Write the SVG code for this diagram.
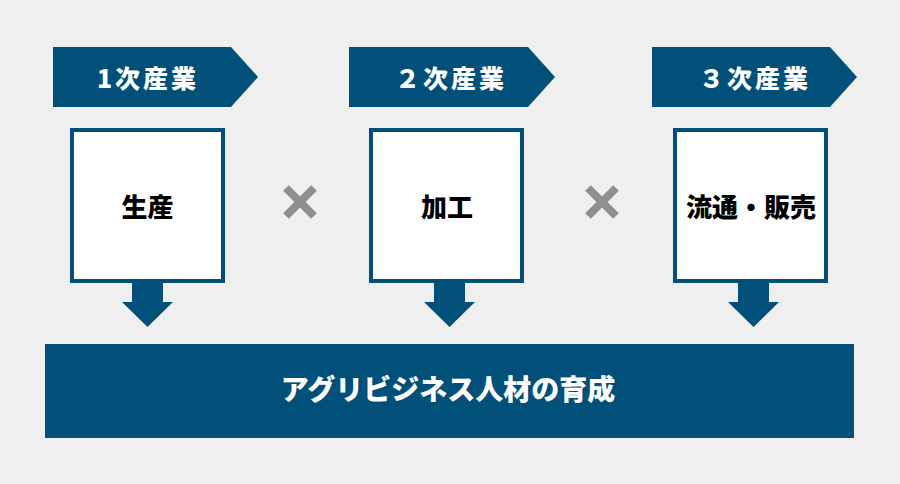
<svg xmlns="http://www.w3.org/2000/svg" width="900" height="484" viewBox="0 0 900 484">
<style>
.bg{fill:#efefef}
.navy{fill:#01507a}
.box{fill:#ffffff;stroke:#01507a;stroke-width:4}
.ban{font-family:"Noto Sans CJK JP","Noto Sans",sans-serif;font-weight:900;font-size:25px;fill:#ffffff;text-anchor:middle;letter-spacing:3px}
.lbl{font-family:"Noto Sans CJK JP","Noto Sans",sans-serif;font-weight:900;font-size:26px;fill:#000000;text-anchor:middle}
.big{font-family:"Noto Sans CJK JP","Noto Sans",sans-serif;font-weight:900;font-size:28px;fill:#ffffff;text-anchor:middle}
.x{stroke:#8f8f8f;stroke-width:8;stroke-linecap:butt}
</style>
<defs>
<path id="arr" d="M-15.5,0 H15.5 V19 H25.5 L0,44 L-25.5,19 H-15.5 Z"/>
</defs>
<rect class="bg" x="0" y="0" width="900" height="484"/>
<g id="banner1"><path class="navy" d="M53,47 H231 L258,77 L231,107 H53 Z"/><text class="ban" x="148" y="88">1次産業</text></g>
<g id="banner2"><path class="navy" d="M349,47 H528 L555,77 L528,107 H349 Z"/><text class="ban" x="451" y="88">２次産業</text></g>
<g id="banner3"><path class="navy" d="M652,47 H830 L857,77 L830,107 H652 Z"/><text class="ban" x="755" y="88">３次産業</text></g>
<g id="node1"><rect class="box" x="72" y="130" width="151" height="151"/><text class="lbl" x="147.5" y="217">生産</text></g>
<g id="node2"><rect class="box" x="371" y="130" width="151" height="151"/><text class="lbl" x="447" y="217">加工</text></g>
<g id="node3"><rect class="box" x="675" y="130" width="151" height="151"/><text class="lbl" x="751" y="217">流通・販売</text></g>
<g id="times1"><path class="x" d="M286,188 L314,216 M314,188 L286,216"/></g>
<g id="times2"><path class="x" d="M588,188 L616,216 M616,188 L588,216"/></g>
<g id="connectors">
<use class="navy" href="#arr" transform="translate(147.5,283)"/>
<use class="navy" href="#arr" transform="translate(449.5,283)"/>
<use class="navy" href="#arr" transform="translate(753.5,283)"/>
</g>
<g id="result"><rect class="navy" x="45" y="344" width="809" height="94"/><text class="big" x="448" y="400">アグリビジネス人材の育成</text></g>
</svg>
